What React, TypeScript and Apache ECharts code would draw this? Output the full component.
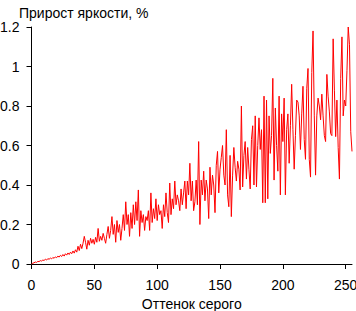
import React, { useEffect, useRef } from "react";
import * as echarts from "echarts";

const titleText = "Прирост яркости, %";
const xAxisName = "Оттенок серого";
const xTicks = [0, 50, 100, 150, 200, 250];
const yTicks = [0, 0.2, 0.4, 0.6, 0.8, 1, 1.2];

// brightness increment (%) per grey level 0..255
const increments = [
  0, 0.004, 0.006, 0.01, 0.008, 0.013, 0.012, 0.017, 0.015, 0.02,
  0.018, 0.024, 0.02, 0.027, 0.024, 0.03, 0.026, 0.033, 0.029, 0.036,
  0.032, 0.04, 0.035, 0.044, 0.038, 0.048, 0.04, 0.052, 0.045, 0.056,
  0.048, 0.06, 0.052, 0.066, 0.055, 0.072, 0.06, 0.09, 0.068, 0.1,
  0.078, 0.105, 0.14, 0.11, 0.075, 0.12, 0.095, 0.13, 0.105, 0.125,
  0.1, 0.135, 0.11, 0.18, 0.115, 0.14, 0.12, 0.155, 0.13, 0.105,
  0.15, 0.19, 0.13, 0.17, 0.24, 0.15, 0.2, 0.11, 0.22, 0.16,
  0.2, 0.12, 0.18, 0.25, 0.17, 0.315, 0.2, 0.25, 0.14, 0.26,
  0.18, 0.3, 0.2, 0.315, 0.22, 0.375, 0.14, 0.27, 0.21, 0.25,
  0.17, 0.24, 0.22, 0.27, 0.17, 0.36, 0.21, 0.28, 0.23, 0.33,
  0.22, 0.3, 0.25, 0.27, 0.18, 0.3, 0.24, 0.36, 0.26, 0.21,
  0.41, 0.25, 0.33, 0.28, 0.42, 0.3, 0.35, 0.32, 0.27, 0.38,
  0.3, 0.36, 0.42, 0.28, 0.42, 0.35, 0.51, 0.32, 0.42, 0.27,
  0.315, 0.425, 0.3, 0.62, 0.2, 0.425, 0.35, 0.47, 0.32, 0.425,
  0.38, 0.23, 0.49, 0.35, 0.45, 0.4, 0.26, 0.5, 0.57, 0.36,
  0.48, 0.54, 0.6, 0.45, 0.4, 0.68, 0.35, 0.29, 0.55, 0.24,
  0.45, 0.59, 0.49, 0.42, 0.52, 0.48, 0.375, 0.8, 0.39, 0.55,
  0.62, 0.43, 0.59, 0.48, 0.38, 0.63, 0.7, 0.4, 0.75, 0.39,
  0.6, 0.74, 0.58, 0.68, 0.31, 0.85, 0.31, 0.83, 0.33, 0.75,
  0.56, 0.65, 0.94, 0.425, 0.79, 0.6, 0.47, 0.85, 0.35, 0.76,
  0.62, 0.84, 0.35, 0.68, 0.76, 0.51, 0.7, 0.91, 0.68, 0.48,
  0.65, 0.83, 0.82, 0.75, 0.58, 0.76, 0.9, 0.63, 0.53, 0.89,
  0.99, 0.53, 0.44, 0.97, 1.18, 0.75, 0.45, 0.75, 0.84, 0.8,
  0.73, 0.86, 0.75, 0.65, 0.62, 0.96, 0.85, 0.77, 0.66, 0.65,
  1.14, 0.88, 0.645, 0.83, 0.59, 0.43, 0.94, 1.15, 0.75, 0.83,
  0.8, 0.98, 1.2, 1.11, 0.67, 0.57,
];

const FONT = "'Liberation Sans', Arial, sans-serif";

export default function App() {
  const ref = useRef<HTMLDivElement>(null);
  useEffect(() => {
    if (!ref.current) return;
    const chart = echarts.init(ref.current, undefined, { renderer: "svg" });
    const axisLine = { show: true, onZero: false, lineStyle: { color: "#000", width: 1 } };
    chart.setOption({
      animation: false,
      backgroundColor: "#fff",
      title: {
        text: titleText,
        left: 14,
        top: 1,
        textStyle: { fontFamily: FONT, fontSize: 14, fontWeight: "normal", color: "#000" },
      },
      grid: { left: 31.5, right: 4, top: 27, bottom: 47, containLabel: false, outerBoundsMode: "none" },
      xAxis: {
        type: "value",
        min: 0,
        max: 255,
        interval: 50,
        name: xAxisName,
        nameLocation: "middle",
        nameGap: 31,
        nameTextStyle: { fontFamily: FONT, fontSize: 14, color: "#000" },
        axisLine,
        axisTick: { show: true, length: 5, inside: false, customValues: xTicks, lineStyle: { color: "#000" } },
        axisLabel: { customValues: xTicks, margin: 14, fontFamily: FONT, fontSize: 14, color: "#000" },
        splitLine: { show: false },
      },
      yAxis: {
        type: "value",
        min: 0,
        max: 1.2,
        interval: 0.2,
        axisLine,
        axisTick: { show: true, length: 5, inside: false, customValues: yTicks, lineStyle: { color: "#000" } },
        axisLabel: { customValues: yTicks, margin: 12, fontFamily: FONT, fontSize: 14, color: "#000" },
        splitLine: { show: false },
      },
      series: [
        {
          type: "line",
          data: increments.map((v, i) => [i, v]),
          showSymbol: false,
          symbol: "none",
          lineStyle: { color: "#ff0000", width: 1 },
          clip: false,
        },
      ],
    });
    return () => chart.dispose();
  }, []);
  return <div ref={ref} style={{ width: 356, height: 311, position: "absolute", left: 0, top: 0 }} />;
}
